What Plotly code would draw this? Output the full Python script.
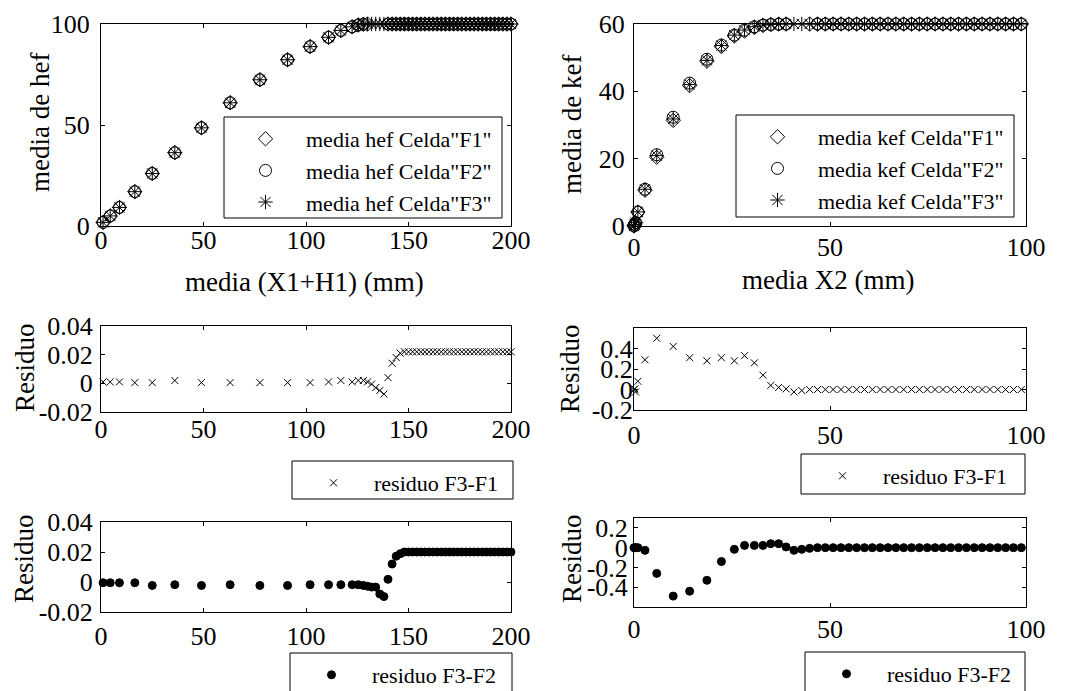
import plotly.graph_objects as go

SERIF = "Liberation Serif"
W, H = 1075, 691

# ---- media de hef vs media (X1+H1) ----
x_h = [1.0, 4.5, 9.0, 16.5, 25.0, 36.0, 49.0, 63.0, 77.5, 91.0, 102.0, 111.0, 117.0, 122.5, 125.5, 128.0,
       130, 132, 134, 136, 138, 140, 142, 144, 146,
       148, 150, 152, 154, 156, 158, 160, 162, 164, 166, 168, 170, 172, 174,
       176, 178, 180, 182, 184, 186, 188, 190, 192, 194, 196, 198, 200]

hef_f1 = [1.799, 4.999, 9.199, 17.000, 26.000, 36.298, 48.600, 61.000, 72.400, 82.300, 88.800, 93.399,
          96.798, 98.599, 99.498, 99.898,
          99.999, 100.001, 100.003, 100.005, 100.008, 99.996, 99.986, 99.982, 99.979,
          99.978, 99.978, 99.978, 99.978, 99.978, 99.978, 99.978, 99.978, 99.978, 99.978, 99.978, 99.978,
          99.978, 99.978, 99.978, 99.978, 99.978, 99.978, 99.978, 99.978, 99.978, 99.978, 99.978, 99.978,
          99.978, 99.978, 99.978]
hef_f2 = [1.801, 5.001, 9.201, 17.001, 26.002, 36.302, 48.602, 61.002, 72.402, 82.302, 88.802, 93.402,
          96.802, 98.602, 99.502, 99.902,
          100.003, 100.003, 100.003, 100.008, 100.010, 99.998, 99.988, 99.983, 99.981,
          99.980, 99.980, 99.980, 99.980, 99.980, 99.980, 99.980, 99.980, 99.980, 99.980, 99.980, 99.980,
          99.980, 99.980, 99.980, 99.980, 99.980, 99.980, 99.980, 99.980, 99.980, 99.980, 99.980, 99.980,
          99.980, 99.980, 99.980]
hef_f3 = [1.80, 5.00, 9.20, 17.00, 26.00, 36.30, 48.60, 61.00, 72.40, 82.30, 88.80, 93.40,
          96.80, 98.60, 99.50, 99.90,
          100.00, 100.00, 100.00, 100.00, 100.00, 100.00, 100.00, 100.00, 100.00,
          100.00, 100.00, 100.00, 100.00, 100.00, 100.00, 100.00, 100.00, 100.00, 100.00, 100.00, 100.00,
          100.00, 100.00, 100.00, 100.00, 100.00, 100.00, 100.00, 100.00, 100.00, 100.00, 100.00, 100.00,
          100.00, 100.00, 100.00]

res_h_31 = [0.0010, 0.0010, 0.0010, 0.0005, 0.0005, 0.0020, 0.0005, 0.0005, 0.0005, 0.0005, 0.0005, 0.0010,
            0.0020, 0.0010, 0.0020, 0.0020,
            0.0010, -0.0005, -0.0030, -0.0050, -0.0075, 0.0040, 0.0140, 0.0180, 0.0210,
            0.0220, 0.0220, 0.0220, 0.0220, 0.0220, 0.0220, 0.0220, 0.0220, 0.0220, 0.0220, 0.0220, 0.0220,
            0.0220, 0.0220, 0.0220, 0.0220, 0.0220, 0.0220, 0.0220, 0.0220, 0.0220, 0.0220, 0.0220, 0.0220,
            0.0220, 0.0220, 0.0220]
res_h_32 = [-0.0005, -0.0005, -0.0005, -0.0005, -0.0023, -0.0018, -0.0023, -0.0018, -0.0023, -0.0023,
            -0.0018, -0.0018, -0.0018, -0.0018, -0.0018, -0.0023,
            -0.0028, -0.0034, -0.0034, -0.0080, -0.0097, 0.0018, 0.0120, 0.0172, 0.0189,
            0.0200, 0.0200, 0.0200, 0.0200, 0.0200, 0.0200, 0.0200, 0.0200, 0.0200, 0.0200, 0.0200, 0.0200,
            0.0200, 0.0200, 0.0200, 0.0200, 0.0200, 0.0200, 0.0200, 0.0200, 0.0200, 0.0200, 0.0200, 0.0200,
            0.0200, 0.0200, 0.0200]

# ---- media de kef vs media X2 ----
x_k = [0.0, 0.2, 0.4, 1.0, 2.8, 5.8, 10.0, 14.2, 18.6, 22.3, 25.6, 28.2, 30.7, 32.9, 34.9, 36.9,
       38.8, 40.8, 42.8, 44.8,
       46.8, 48.8, 50.8, 52.8, 54.8, 56.8, 58.8, 60.8, 62.8, 64.8, 66.8, 68.8, 70.8, 72.8,
       74.8, 76.8, 78.8, 80.8, 82.8, 84.8, 86.8, 88.8, 90.8, 92.8, 94.8, 96.8, 98.8]

kef_f1 = [0.00, 0.39, 1.02, 4.12, 10.61, 20.40, 31.38, 41.69, 48.92, 53.29, 56.42, 57.87, 58.94, 59.56,
          59.86, 59.98, 59.99, 60.02, 60.01, 60.00,
          60.00, 60.00, 60.00, 60.00, 60.00, 60.00, 60.00, 60.00, 60.00, 60.00, 60.00, 60.00, 60.00, 60.00,
          60.00, 60.00, 60.00, 60.00, 60.00, 60.00, 60.00, 60.00, 60.00, 60.00, 60.00, 60.00, 60.00]
kef_f2 = [0.00, 0.40, 1.00, 4.20, 10.93, 21.16, 32.29, 42.44, 49.53, 53.74, 56.72, 58.18, 59.18, 59.68,
          59.86, 59.96, 59.99, 60.03, 60.02, 60.01,
          60.00, 60.00, 60.00, 60.00, 60.00, 60.00, 60.00, 60.00, 60.00, 60.00, 60.00, 60.00, 60.00, 60.00,
          60.00, 60.00, 60.00, 60.00, 60.00, 60.00, 60.00, 60.00, 60.00, 60.00, 60.00, 60.00, 60.00]
kef_f3 = [0.00, 0.40, 1.00, 4.20, 10.90, 20.90, 31.80, 42.00, 49.20, 53.60, 56.70, 58.20, 59.20, 59.70,
          59.90, 60.00, 60.00, 60.00, 60.00, 60.00,
          60.00, 60.00, 60.00, 60.00, 60.00, 60.00, 60.00, 60.00, 60.00, 60.00, 60.00, 60.00, 60.00, 60.00,
          60.00, 60.00, 60.00, 60.00, 60.00, 60.00, 60.00, 60.00, 60.00, 60.00, 60.00, 60.00, 60.00]

res_k_31 = [0.000, 0.006, -0.024, 0.080, 0.290, 0.500, 0.420, 0.310, 0.280, 0.310, 0.280, 0.330, 0.260,
            0.140, 0.040, 0.020, 0.006, -0.024, -0.010, 0.000,
            0.000, 0.000, 0.000, 0.000, 0.000, 0.000, 0.000, 0.000, 0.000, 0.000, 0.000, 0.000, 0.000, 0.000,
            0.000, 0.000, 0.000, 0.000, 0.000, 0.000, 0.000, 0.000, 0.000, 0.000, 0.000, 0.000, 0.000]
res_k_32 = [0.000, 0.000, 0.000, 0.000, -0.027, -0.260, -0.490, -0.440, -0.330, -0.140, -0.017, 0.023,
            0.023, 0.023, 0.040, 0.040, 0.007, -0.027, -0.017, -0.007,
            0.000, 0.000, 0.000, 0.000, 0.000, 0.000, 0.000, 0.000, 0.000, 0.000, 0.000, 0.000, 0.000, 0.000,
            0.000, 0.000, 0.000, 0.000, 0.000, 0.000, 0.000, 0.000, 0.000, 0.000, 0.000, 0.000, 0.000]

# ---- tick labels ----
ticks_x_h = [0, 50, 100, 150, 200]
ticks_x_k = [0, 50, 100]
ticks_hef = [0, 50, 100]
ticks_kef = [0, 20, 40, 60]
ticks_res_h = [-0.02, 0, 0.02, 0.04]
labels_res_h = ["-0.02", "0", "0.02", "0.04"]
ticks_res_k31 = [-0.2, 0, 0.2, 0.4, 0.6]
labels_res_k31 = ["-0.2", "0", "0.2", "0.4", ""]
ticks_res_k32 = [-0.4, -0.2, 0, 0.2]
labels_res_k32 = ["-0.4", "-0.2", "0", "0.2"]


def px_x(a, b):
    return [a / W, b / W]


def px_y(top, bottom):
    return [1 - bottom / H, 1 - top / H]


TICKFONT = dict(family=SERIF, size=26, color="black")
LEGFONT = dict(family=SERIF, size=22, color="black")


def axis(domain, rng, vals, text=None, standoff=0, anchor=None):
    return dict(domain=domain, range=rng, tickvals=vals,
                ticktext=text if text is not None else [str(v) for v in vals],
                showline=True, linecolor="black", linewidth=1, mirror="ticks",
                ticks="inside", ticklen=4, tickwidth=1, tickcolor="black",
                showgrid=False, zeroline=False, tickfont=TICKFONT,
                ticklabelstandoff=standoff, anchor=anchor)


fig = go.Figure()


def pts(x, y, ax, name, symbol, size, legend):
    mk = dict(symbol=symbol, size=size, color="black",
              line=dict(color="black", width=1))
    fig.add_trace(go.Scatter(x=x, y=y, mode="markers", name=name, marker=mk,
                             xaxis="x" + ax, yaxis="y" + ax, legend=legend,
                             cliponaxis=False))


# top row
pts(x_h, hef_f1, "", 'media hef Celda"F1"', "diamond-open", 11, "legend")
pts(x_h, hef_f2, "", 'media hef Celda"F2"', "circle-open", 12, "legend")
pts(x_h, hef_f3, "", 'media hef Celda"F3"', "asterisk-open", 12, "legend")
pts(x_k, kef_f1, "2", 'media kef Celda"F1"', "diamond-open", 11, "legend2")
pts(x_k, kef_f2, "2", 'media kef Celda"F2"', "circle-open", 12, "legend2")
pts(x_k, kef_f3, "2", 'media kef Celda"F3"', "asterisk-open", 12, "legend2")
# residuals F3-F1
pts(x_h, res_h_31, "3", "residuo F3-F1", "x-thin-open", 7, "legend3")
pts(x_k, res_k_31, "4", "residuo F3-F1", "x-thin-open", 7, "legend4")
# residuals F3-F2
pts(x_h, res_h_32, "5", "residuo F3-F2", "circle", 8, "legend5")
pts(x_k, res_k_32, "6", "residuo F3-F2", "circle", 8, "legend6")

LX = px_x(101, 511)
RX = px_x(634, 1026)

layout = dict(
    width=W, height=H,
    margin=dict(l=0, r=0, t=0, b=0, autoexpand=False),
    paper_bgcolor="white", plot_bgcolor="white",
    font=dict(family=SERIF, color="black"),
    xaxis=axis(LX, [0, 200], ticks_x_h, standoff=-9, anchor="y"),
    yaxis=axis(px_y(24, 226), [0, 100], ticks_hef, standoff=5, anchor="x"),
    xaxis2=axis(RX, [0, 100], ticks_x_k, standoff=-2, anchor="y2"),
    yaxis2=axis(px_y(24, 226), [0, 60], ticks_kef, standoff=3, anchor="x2"),
    xaxis3=axis(LX, [0, 200], ticks_x_h, standoff=-6, anchor="y3"),
    yaxis3=axis(px_y(326, 412), [-0.02, 0.04], ticks_res_h, labels_res_h, standoff=2, anchor="x3"),
    xaxis4=axis(RX, [0, 100], ticks_x_k, standoff=2, anchor="y4"),
    yaxis4=axis(px_y(328, 410), [-0.2, 0.6], ticks_res_k31, labels_res_k31, standoff=-5, anchor="x4"),
    xaxis5=axis(LX, [0, 200], ticks_x_h, standoff=1, anchor="y5"),
    yaxis5=axis(px_y(522, 612), [-0.02, 0.04], ticks_res_h, labels_res_h, standoff=2, anchor="x5"),
    xaxis6=axis(RX, [0, 100], ticks_x_k, standoff=-1, anchor="y6"),
    yaxis6=axis(px_y(518, 607), [-0.6, 0.3], ticks_res_k32, labels_res_k32, standoff=0, anchor="x6"),
    showlegend=True,
)

# legend frames (left, top, right, bottom) in page pixels; the legend
# entries themselves are drawn by plotly on a transparent background
frames = {
    "legend": (224, 117, 502, 218),
    "legend2": (736, 115, 1014, 217),
    "legend3": (292, 461, 513, 499),
    "legend4": (801, 454, 1025, 494),
    "legend5": (290, 653, 512, 705),
    "legend6": (805, 652, 1025, 705),
}

shapes = []
for key, (l, t, r, b) in frames.items():
    layout[key] = dict(x=(l + 1) / W, y=1 - (t + 1) / H, xanchor="left", yanchor="top",
                       bgcolor="rgba(0,0,0,0)", borderwidth=0,
                       font=LEGFONT, itemwidth=71, tracegroupgap=0)
    shapes.append(dict(type="rect", xref="paper", yref="paper",
                       x0=l / W, x1=r / W, y0=1 - b / H, y1=1 - t / H,
                       line=dict(color="black", width=1), fillcolor="white",
                       layer="above"))
layout["shapes"] = shapes

fig.update_layout(**layout)

# axis titles
titles = [
    ("media (X1+H1) (mm)", 304, 282, 0),
    ("media X2 (mm)", 828, 280, 0),
    ("media de hef", 40, 123, -90),
    ("media de kef", 572, 125, -90),
    ("Residuo", 25, 368, -90),
    ("Residuo", 570, 369, -90),
    ("Residuo", 24, 559, -90),
    ("Residuo", 572, 559, -90),
]
for text, cx, cy, ang in titles:
    fig.add_annotation(text=text, x=cx / W, y=1 - cy / H, xref="paper", yref="paper",
                       showarrow=False, textangle=ang, xanchor="center", yanchor="middle",
                       font=dict(family=SERIF, size=27, color="black"))

fig.write_html("out.html")
